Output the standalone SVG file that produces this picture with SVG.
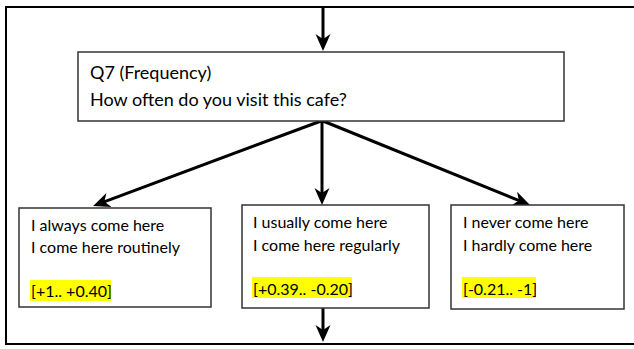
<svg xmlns="http://www.w3.org/2000/svg" width="634" height="349" viewBox="0 0 634 349">
<defs>
<style>
.box{fill:#fff;stroke:#333;stroke-width:1.5}
.t1{font-family:Lato,"Liberation Sans",sans-serif;font-size:18px;fill:#000}
.t2{font-family:Lato,"Liberation Sans",sans-serif;font-size:16px;fill:#000}
.hl{fill:#ffff00}
.con line{stroke:#000;stroke-width:3;marker-end:url(#ah)}
</style>
<marker id="ah" viewBox="0 0 17 17" markerWidth="17" markerHeight="17" markerUnits="userSpaceOnUse" refX="6" refY="8.5" orient="auto">
<path d="M0,1 L17,8.5 L0,16 L5,8.5 z" fill="#000"/>
</marker>
</defs>
<rect width="634" height="349" fill="#fff"/>
<path id="frame" d="M640,7 H6 V344 H640" fill="none" stroke="#000" stroke-width="2"/>
<g class="con" id="connectors">
<line x1="323" y1="7" x2="323" y2="40"/>
<line x1="322" y1="121" x2="322" y2="194"/>
<line x1="321" y1="121" x2="103.4" y2="202.1"/>
<line x1="323" y1="121" x2="519.8" y2="200.9"/>
<line x1="323" y1="308" x2="323" y2="331"/>
</g>
<g id="q7">
<rect class="box" x="78" y="52" width="486" height="69"/>
<text class="t1" x="90" y="79">Q7 (Frequency)</text>
<text class="t1" x="90" y="106">How often do you visit this cafe?</text>
</g>
<g id="always">
<rect class="box" x="19" y="208" width="192" height="99"/>
<text class="t2" x="31" y="231">I always come here</text>
<text class="t2" x="31" y="253">I come here routinely</text>
<rect class="hl" x="30" y="280" width="81" height="21"/>
<text class="t2" x="31" y="297">[+1.. +0.40]</text>
</g>
<g id="usually">
<rect class="box" x="242" y="205" width="187" height="103"/>
<text class="t2" x="253" y="228">I usually come here</text>
<text class="t2" x="253" y="251">I come here regularly</text>
<rect class="hl" x="252" y="277" width="100" height="21"/>
<text class="t2" x="253" y="295">[+0.39.. -0.20]</text>
</g>
<g id="never">
<rect class="box" x="451" y="205" width="173" height="104"/>
<text class="t2" x="463" y="228">I never come here</text>
<text class="t2" x="463" y="251">I hardly come here</text>
<rect class="hl" x="462" y="277" width="74" height="21"/>
<text class="t2" x="463" y="295">[-0.21.. -1]</text>
</g>
</svg>
